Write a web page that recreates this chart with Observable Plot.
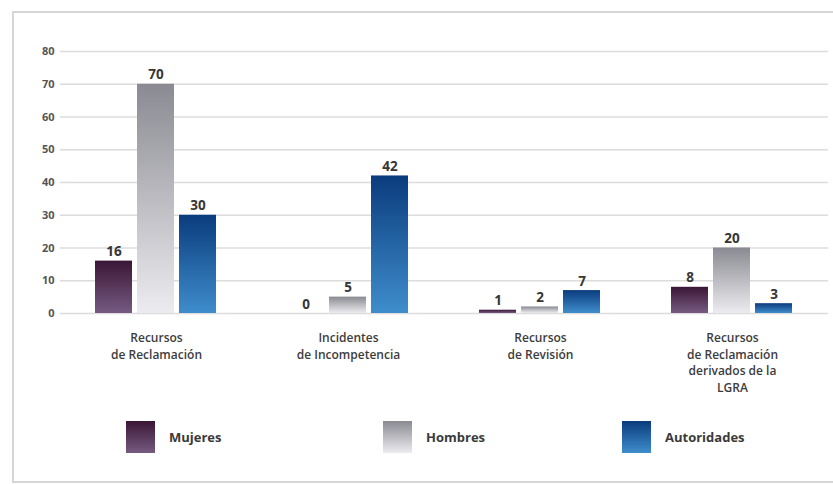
<!DOCTYPE html>
<html>
<head>
<meta charset="utf-8">
<script src="https://cdn.jsdelivr.net/npm/d3@7"></script>
<script src="https://cdn.jsdelivr.net/npm/@observablehq/plot@0.6"></script>
<style>
  html, body { margin: 0; padding: 0; background: #fff; }
  #wrap { position: relative; width: 833px; height: 484px; overflow: hidden; font-family: "Open Sans", "Lato", sans-serif; }
  #frame { position: absolute; left: 12px; top: 11px; width: 840px; height: 468px; border-left: 2px solid #d6d6d6; border-top: 2px solid #d6d6d6; border-bottom: 2px solid #d6d6d6; }
  #chart { position: absolute; left: 0; top: 0; }
  .legend-item { position: absolute; top: 421px; display: flex; align-items: center; font-weight: 700; font-size: 13px; color: #3a3a3a; }
  .sw { width: 29px; height: 32px; margin-right: 14px; }
</style>
</head>
<body>
<div id="wrap">
  <div id="frame"></div>
  <div id="chart"></div>
  <div id="legend"></div>
</div>
<script>
// ---- data ----
const categories = [
  "Recursos\nde Reclamación",
  "Incidentes\nde Incompetencia",
  "Recursos\nde Revisión",
  "Recursos\nde Reclamación\nderivados de la\nLGRA"
];
const series = ["Mujeres", "Hombres", "Autoridades"];
const mujeres = [16, 0, 1, 8];
const hombres = [70, 5, 2, 20];
const autoridades = [30, 42, 7, 3];
const yTicks = [0, 10, 20, 30, 40, 50, 60, 70, 80];

// ---- styling ----
const gradients = {
  Mujeres: ["#3a1636", "#775a82"],
  Hombres: ["#8a8a92", "#ececf0"],
  Autoridades: ["#0a3c7d", "#3f8dcc"]
};
const legendLeft = [126, 383, 622];

const valuesBySeries = [mujeres, hombres, autoridades];
const data = [];
categories.forEach((c, i) => {
  series.forEach((s, j) => data.push({cat: c, serie: s, value: valuesBySeries[j][i]}));
});

const chart = Plot.plot({
  width: 833,
  height: 420,
  marginTop: 51,
  marginBottom: 107,
  marginLeft: 60,
  marginRight: 5,
  style: {fontFamily: "'Open Sans', Lato, sans-serif", background: "transparent"},
  fx: {domain: categories, padding: 0, axis: null},
  x: {domain: series, paddingInner: 0.11, paddingOuter: 0.83, axis: null},
  y: {domain: [0, 80], ticks: yTicks, tickSize: 0, tickPadding: 6, label: null},
  color: {domain: series, range: series.map(s => `url(#grad-${s})`)},
  marks: [
    Plot.ruleY(yTicks, {stroke: "#dcdcdc", strokeWidth: 1.6}),
    Plot.barY(data, {fx: "cat", x: "serie", y: "value", fill: "serie"}),
    Plot.text(data, {fx: "cat", x: "serie", y: "value", text: d => String(d.value),
      lineAnchor: "bottom", dy: -5, fontSize: 13.5, fontWeight: 700, fill: "#363636"}),
    Plot.text(categories, {fx: d => d, text: d => d, frameAnchor: "bottom",
      lineAnchor: "top", dy: 17, fontSize: 12, fontWeight: 600, lineHeight: 1.38, fill: "#3c3c3c"})
  ]
});

// gradient definitions
const svg = d3.select(chart);
const defs = svg.insert("defs", ":first-child");
series.forEach(s => {
  const g = defs.append("linearGradient").attr("id", `grad-${s}`)
    .attr("x1", 0).attr("y1", 0).attr("x2", 0).attr("y2", 1);
  g.append("stop").attr("offset", "0%").attr("stop-color", gradients[s][0]);
  g.append("stop").attr("offset", "100%").attr("stop-color", gradients[s][1]);
});
svg.selectAll("g[aria-label='y-axis tick label'] text, g[aria-label='y-axis'] text")
  .attr("font-weight", 700).attr("fill", "#555").attr("font-size", 11);
svg.attr("font-size", 11);

document.getElementById("chart").appendChild(chart);

// legend
const legend = d3.select("#legend");
series.forEach((s, i) => {
  const item = legend.append("div").attr("class", "legend-item").style("left", legendLeft[i] + "px");
  item.append("div").attr("class", "sw")
    .style("background", `linear-gradient(${gradients[s][0]}, ${gradients[s][1]})`);
  item.append("span").text(s);
});
</script>
</body>
</html>
